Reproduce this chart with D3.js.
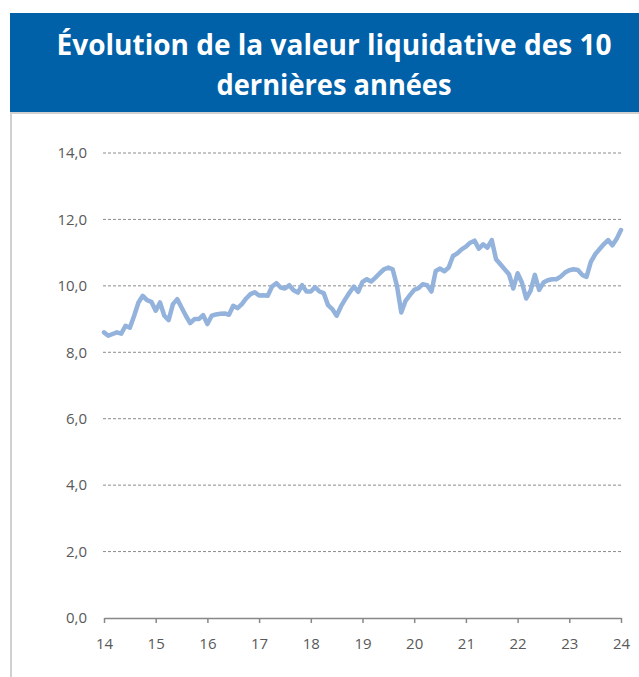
<!DOCTYPE html>
<html>
<head>
<meta charset="utf-8">
<script src="https://cdn.jsdelivr.net/npm/d3@7"></script>
<style>
  body { margin: 0; background: #fff; }
  svg { display: block; }
</style>
</head>
<body>
<svg id="chart"></svg>
<script>
// Monthly net asset value, Jan 2014 to Jan 2024
const startYear = 14;
const navValues = [
  8.60, 8.50, 8.55, 8.60, 8.56, 8.80, 8.74, 9.10, 9.50, 9.70, 9.57, 9.52,
  9.25, 9.50, 9.10, 8.97, 9.45, 9.60, 9.35, 9.10, 8.88, 9.00, 9.00, 9.12,
  8.85, 9.10, 9.14, 9.16, 9.17, 9.13, 9.40, 9.33, 9.45, 9.62, 9.75, 9.81,
  9.71, 9.72, 9.70, 9.98, 10.08, 9.95, 9.92, 10.02, 9.87, 9.80, 10.02, 9.83,
  9.83, 9.96, 9.83, 9.78, 9.42, 9.30, 9.10, 9.38, 9.60, 9.80, 9.98, 9.82,
  10.12, 10.20, 10.13, 10.25, 10.38, 10.50, 10.55, 10.50, 10.00, 9.20, 9.55, 9.72,
  9.88, 9.93, 10.05, 10.02, 9.83, 10.45, 10.52, 10.44, 10.55, 10.90, 10.98, 11.10,
  11.18, 11.30, 11.36, 11.12, 11.25, 11.15, 11.38, 10.80, 10.65, 10.50, 10.35, 9.92,
  10.38, 10.10, 9.62, 9.85, 10.33, 9.88, 10.10, 10.17, 10.20, 10.20, 10.28, 10.40,
  10.47, 10.50, 10.48, 10.33, 10.27, 10.72, 10.95, 11.10, 11.25, 11.38, 11.22, 11.42,
  11.68
];
const yTicks = [0, 2, 4, 6, 8, 10, 12, 14];
const xTicks = [14, 15, 16, 17, 18, 19, 20, 21, 22, 23, 24];
const titleLines = ["Évolution de la valeur liquidative des 10", "dernières années"];

const W = 639, H = 677;
const svg = d3.select("#chart").attr("width", W).attr("height", H);

const data = navValues.map((v, i) => ({ t: startYear + i / 12, v: v }));

// Title band
svg.append("rect")
  .attr("x", 10).attr("y", 13)
  .attr("width", W - 10).attr("height", 99)
  .attr("fill", "#0061a9");

svg.selectAll("text.title")
  .data(titleLines)
  .enter()
  .append("text")
  .attr("class", "title")
  .attr("x", 334)
  .attr("y", (d, i) => 55 + i * 40)
  .attr("text-anchor", "middle")
  .attr("fill", "#fff")
  .attr("font-family", "'Open Sans', sans-serif")
  .attr("font-weight", "bold")
  .attr("font-size", 28)
  .attr("textLength", (d, i) => i === 0 ? 555 : 235)
  .attr("lengthAdjust", "spacingAndGlyphs")
  .text(d => d);

// Chart frame
svg.append("path")
  .attr("d", `M11,${H} V113 H${W}`)
  .attr("fill", "none")
  .attr("stroke", "#d0d0d0")
  .attr("stroke-width", 2);

// Scales
const x = d3.scaleLinear().domain([14, 24]).range([104, 621]);
const y = d3.scaleLinear().domain([0, 14]).range([618, 153]);

// Gridlines
svg.append("g")
  .selectAll("line")
  .data(yTicks.filter(d => d > 0))
  .enter()
  .append("line")
  .attr("x1", 103).attr("x2", 621)
  .attr("y1", d => y(d)).attr("y2", d => y(d))
  .attr("stroke", "#8c8c8c")
  .attr("stroke-width", 1)
  .attr("stroke-dasharray", "3,2");

// Y axis labels
svg.append("g")
  .selectAll("text")
  .data(yTicks)
  .enter()
  .append("text")
  .attr("x", 87)
  .attr("y", d => y(d))
  .attr("dy", "0.35em")
  .attr("text-anchor", "end")
  .attr("fill", "#595959")
  .attr("font-family", "'Open Sans', sans-serif")
  .attr("font-size", 15)
  .text(d => d3.format(".1f")(d).replace(".", ","));

// X axis
const xAxis = svg.append("g")
  .attr("transform", `translate(0,${y(0)})`)
  .call(d3.axisBottom(x).tickValues(xTicks).tickSize(5).tickSizeOuter(0).tickPadding(15).tickFormat(d => d));

xAxis.select(".domain").attr("stroke", "#888").attr("stroke-width", 1.5);
xAxis.selectAll(".tick line").attr("stroke", "#888").attr("stroke-width", 1.5);
xAxis.selectAll(".tick text")
  .attr("fill", "#595959")
  .attr("font-family", "'Open Sans', sans-serif")
  .attr("font-size", 15);

// Line
const line = d3.line()
  .x(d => x(d.t))
  .y(d => y(d.v));

svg.append("path")
  .datum(data)
  .attr("fill", "none")
  .attr("stroke", "#93b2dc")
  .attr("stroke-width", 4.5)
  .attr("stroke-linejoin", "round")
  .attr("stroke-linecap", "round")
  .attr("d", line);
</script>
</body>
</html>
